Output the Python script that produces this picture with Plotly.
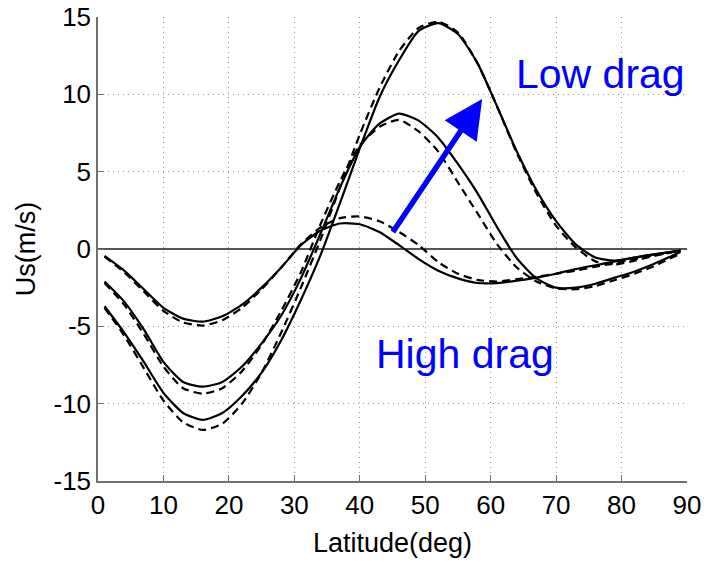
import plotly.graph_objects as go

# Latitude (deg)
lat = [1, 4, 7, 10, 13, 16, 19, 22, 25, 28, 31, 34, 37, 40, 43, 46, 49, 52, 55, 58,
       61, 64, 67, 70, 73, 76, 79, 82, 85, 89]

# High drag (small amplitude)
high_solid = [-0.45, -1.4, -2.6, -3.8, -4.5, -4.7, -4.35, -3.6, -2.5, -1.2, 0.25, 1.2, 1.65, 1.6, 1.1, 0.25,
              -0.65, -1.4, -1.9, -2.2, -2.2, -2.05, -1.85, -1.6, -1.3, -1.05, -0.8, -0.55, -0.35, -0.1]
high_dash = [-0.5, -1.5, -2.75, -4.0, -4.75, -4.95, -4.6, -3.8, -2.6, -1.2, 0.3, 1.4, 2.0, 2.1, 1.8, 1.1,
             0.25, -0.85, -1.6, -2.0, -2.1, -1.95, -1.8, -1.6, -1.4, -1.15, -0.9, -0.65, -0.4, -0.1]

# Medium drag
mid_solid = [-2.1, -3.4, -5.2, -7.3, -8.6, -8.9, -8.6, -7.6, -6.1, -4.3, -1.9, 1.0, 4.0, 6.6, 8.1, 8.75,
             8.3, 7.2, 5.5, 3.6, 1.4, -0.6, -1.9, -2.5, -2.5, -2.25, -1.85, -1.45, -0.95, -0.2]
mid_dash = [-2.2, -3.6, -5.5, -7.6, -9.0, -9.35, -9.0, -7.9, -6.2, -4.0, -1.5, 1.6, 4.4, 6.7, 7.9, 8.35,
            7.6, 6.3, 4.3, 2.3, 0.3, -1.2, -2.1, -2.55, -2.6, -2.4, -2.0, -1.6, -1.1, -0.3]

# Low drag (large amplitude)
low_solid = [-3.7, -5.4, -7.3, -9.3, -10.6, -11.05, -10.6, -9.5, -8.0, -5.9, -3.3, -0.4, 3.0, 6.5, 9.8, 12.2,
             14.1, 14.6, 13.9, 12.0, 9.2, 6.3, 3.8, 1.8, 0.3, -0.55, -0.75, -0.55, -0.35, -0.1]
low_dash = [-3.8, -5.6, -7.7, -9.8, -11.2, -11.7, -11.3, -10.0, -8.0, -5.4, -2.5, 0.6, 4.0, 7.4, 10.4, 12.8,
            14.3, 14.7, 14.0, 12.0, 9.2, 6.2, 3.6, 1.5, 0.1, -0.8, -1.0, -0.75, -0.45, -0.1]

x_ticks = [0, 10, 20, 30, 40, 50, 60, 70, 80, 90]
y_ticks = [-15, -10, -5, 0, 5, 10, 15]
y_tick_labels = ["-15", "-10", "-5", "0", "5", "10", "15"]

# arrow (data coords): tail -> head
arrow_tail = (44.9, 1.0)
arrow_head = (58.7, 9.7)

FONT = "Liberation Sans, Arial, Helvetica, sans-serif"

fig = go.Figure()
for ys, dash in [(high_solid, "solid"), (high_dash, "8px,5px"),
                 (mid_solid, "solid"), (mid_dash, "8px,5px"),
                 (low_solid, "solid"), (low_dash, "8px,5px")]:
    fig.add_trace(go.Scatter(x=lat, y=ys, mode="lines",
                             line=dict(color="black", width=2.2, dash=dash, shape="spline", smoothing=0.6),
                             showlegend=False, hoverinfo="skip"))

fig.add_annotation(x=arrow_head[0], y=arrow_head[1], ax=arrow_tail[0], ay=arrow_tail[1],
                   xref="x", yref="y", axref="x", ayref="y", text="", showarrow=True,
                   arrowhead=2, arrowsize=1.4, arrowwidth=5.5, arrowcolor="#0000ff")
fig.add_annotation(x=63.6, y=11.3, xref="x", yref="y", text="Low drag", showarrow=False,
                   xanchor="left", yanchor="middle", font=dict(family=FONT, size=41, color="#0000ff"))
fig.add_annotation(x=42.2, y=-6.8, xref="x", yref="y", text="High drag", showarrow=False,
                   xanchor="left", yanchor="middle", font=dict(family=FONT, size=41, color="#0000ff"))

fig.update_layout(
    width=704, height=563,
    margin=dict(l=98, r=17, t=17, b=82),
    paper_bgcolor="white", plot_bgcolor="white",
    font=dict(family=FONT, color="black"),
)
fig.update_xaxes(range=[0, 90], tickvals=x_ticks, showgrid=True, gridcolor="#9a9a9a", griddash="1px,4px",
                 gridwidth=1, zeroline=False, showline=True, linecolor="#707070", linewidth=1.5,
                 ticks="inside", ticklen=6, tickcolor="#707070", tickfont=dict(size=26),
                 automargin=False, ticklabeloverflow="allow",
                 title=dict(text="Latitude(deg)", font=dict(size=27), standoff=14))
fig.update_yaxes(range=[-15, 15], tickvals=y_ticks, ticktext=y_tick_labels, showgrid=True,
                 gridcolor="#9a9a9a", griddash="1px,4px",
                 gridwidth=1, zeroline=True, zerolinecolor="#555555", zerolinewidth=1.6,
                 showline=True, linecolor="#707070", linewidth=1.5,
                 ticks="inside", ticklen=6, tickcolor="#707070", tickfont=dict(size=26),
                 automargin=False, ticklabeloverflow="allow",
                 title=dict(text="Us(m/s)", font=dict(size=27), standoff=10))

# remove the page's default 8px body margin so the 704x563 figure fills the view exactly
fig.write_html("out.html", config={"displayModeBar": False},
               post_script="document.body.style.margin='0px';")
